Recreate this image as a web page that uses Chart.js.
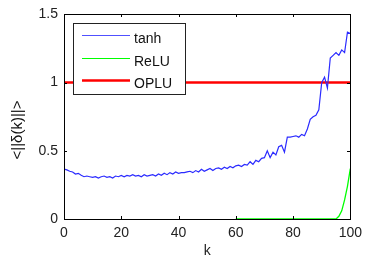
<!DOCTYPE html>
<html>
<head>
<meta charset="utf-8">
<script src="https://cdn.jsdelivr.net/npm/chart.js@4.4.0/dist/chart.umd.min.js"></script>
<style>
  html, body { margin: 0; padding: 0; background: #fff; }
  #wrap { width: 368px; height: 261px; }
</style>
</head>
<body>
<div id="wrap"><canvas id="normChart" width="368" height="261"></canvas></div>
<script>
// k = 0..100
const kValues = [];
for (let k = 0; k <= 100; k++) kValues.push(k);

// mean norm of delta(k)
const tanhValues = [
  0.366, 0.36, 0.35, 0.345, 0.33, 0.335, 0.32, 0.31, 0.315, 0.31,
  0.305, 0.31, 0.30, 0.31, 0.315, 0.305, 0.31, 0.30, 0.315, 0.31,
  0.32, 0.31, 0.32, 0.315, 0.325, 0.315, 0.32, 0.31, 0.325, 0.315,
  0.32, 0.325, 0.315, 0.33, 0.32, 0.335, 0.325, 0.34, 0.33, 0.345,
  0.335, 0.34, 0.34, 0.345, 0.35, 0.34, 0.355, 0.345, 0.365, 0.35,
  0.36, 0.37, 0.355, 0.37, 0.375, 0.365, 0.38, 0.37, 0.385, 0.375,
  0.39, 0.395, 0.385, 0.40, 0.395, 0.42, 0.40, 0.43, 0.42, 0.445,
  0.45, 0.50, 0.45, 0.49, 0.47, 0.53, 0.54, 0.49, 0.60, 0.60,
  0.605, 0.61, 0.60, 0.62, 0.61, 0.66, 0.73, 0.75, 0.76, 0.80,
  1.00, 1.04, 0.96, 1.18, 1.20, 1.22, 1.20, 1.24, 1.22, 1.37,
  1.36
];

// ReLU only shows from k = 60 on
const reluValues = [];
for (let k = 0; k < 60; k++) reluValues.push(null);
const reluTail = [
  0, 0, 0, 0, 0, 0, 0, 0, 0, 0,
  0, 0, 0, 0, 0, 0, 0, 0, 0, 0,
  0, 0, 0, 0, 0, 0, 0, 0, 0, 0,
  0, 0, 0, 0, 0, 0, 0.02, 0.06, 0.14, 0.24,
  0.37
];
reluTail.forEach(v => reluValues.push(v));

const opluValues = kValues.map(() => 1);

const seriesLabels = ['tanh', 'ReLU', 'OPLU'];
const seriesColors = ['#2b2bff', '#00ff00', '#ff0000'];
const seriesWidths = [1.2, 1.3, 2.5];

const xTicks = [0, 20, 40, 60, 80, 100];
const yTicks = [0, 0.5, 1, 1.5];

const fontFamily = '"Liberation Sans", Arial, sans-serif';

function toPoints(values) {
    return values.map((v, i) => ({ x: kValues[i], y: v }));
}

/**
 * MATLAB-like box with inward ticks, legend and y label
 */
const boxPlugin = {
    id: 'box',
    afterDraw(chart) {
        const { ctx, chartArea: a, scales } = chart;
        const left = Math.round(a.left), top = Math.round(a.top);
        const right = Math.round(a.right), bottom = Math.round(a.bottom);
        ctx.save();
        ctx.strokeStyle = '#000';
        ctx.lineWidth = 1;
        ctx.strokeRect(left + 0.5, top + 0.5, right - left, bottom - top);
        ctx.beginPath();
        const len = 3;
        xTicks.forEach(t => {
            const x = Math.round(scales.x.getPixelForValue(t)) + 0.5;
            ctx.moveTo(x, bottom); ctx.lineTo(x, bottom - len);
            ctx.moveTo(x, top); ctx.lineTo(x, top + len);
        });
        yTicks.forEach(t => {
            const y = Math.round(scales.y.getPixelForValue(t)) + 0.5;
            ctx.moveTo(left, y); ctx.lineTo(left + len, y);
            ctx.moveTo(right, y); ctx.lineTo(right - len, y);
        });
        ctx.stroke();

        // legend box in the upper left corner
        const lx = left + 9, ly = top + 9, lw = 112, lh = 71;
        ctx.fillStyle = '#fff';
        ctx.fillRect(lx, ly, lw, lh);
        ctx.strokeStyle = '#222';
        ctx.strokeRect(lx + 0.5, ly + 0.5, lw, lh);
        ctx.font = '14px ' + fontFamily;
        ctx.textBaseline = 'alphabetic';
        seriesLabels.forEach((label, i) => {
            const y = ly + 12 + Math.round(i * 22.5);
            ctx.strokeStyle = i === 0 ? '#5050ff' : seriesColors[i];
            ctx.lineWidth = i === 2 ? 2.5 : 1;
            ctx.beginPath();
            ctx.moveTo(lx + 9, y + 0.5);
            ctx.lineTo(lx + 57, y + 0.5);
            ctx.stroke();
            ctx.fillStyle = '#111';
            ctx.fillText(label, lx + 61, y + 8);
        });

        // y label, placed like matlab's
        ctx.translate(18, 130);
        ctx.rotate(-Math.PI / 2);
        ctx.textAlign = 'center';
        ctx.textBaseline = 'middle';
        ctx.font = '15px ' + fontFamily;
        ctx.fillStyle = '#111';
        ctx.fillText('<||δ(k)||>', 0, 0);
        ctx.restore();
    }
};

const datasets = [tanhValues, reluValues, opluValues].map((vals, i) => ({
    label: seriesLabels[i],
    data: toPoints(vals),
    borderColor: seriesColors[i],
    borderWidth: seriesWidths[i],
    pointRadius: 0,
    fill: false,
    tension: 0,
    spanGaps: false,
    order: i === 0 ? 0 : 3 - i
}));

const tickFont = { family: fontFamily, size: 14 };

new Chart(document.getElementById('normChart').getContext('2d'), {
    type: 'line',
    data: { datasets: datasets },
    options: {
        responsive: false,
        animation: false,
        layout: { padding: { top: 14, right: 11, left: 0, bottom: 0 } },
        plugins: { legend: { display: false }, tooltip: { enabled: false } },
        scales: {
            x: {
                type: 'linear',
                min: 0, max: 100,
                grid: { display: false, drawTicks: false },
                border: { display: false },
                ticks: { stepSize: 20, padding: 6, color: '#222', font: tickFont },
                title: { display: true, text: 'k', color: '#222', font: tickFont, padding: { top: 3, bottom: 1 } },
                afterFit(scale) { scale.height = 42; }
            },
            y: {
                min: 0, max: 1.5,
                grid: { display: false, drawTicks: false },
                border: { display: false },
                ticks: { stepSize: 0.5, padding: 6, color: '#222', font: tickFont, callback: v => String(v) },
                afterFit(scale) { scale.width = 64; }
            }
        }
    },
    plugins: [boxPlugin]
});
</script>
</body>
</html>
